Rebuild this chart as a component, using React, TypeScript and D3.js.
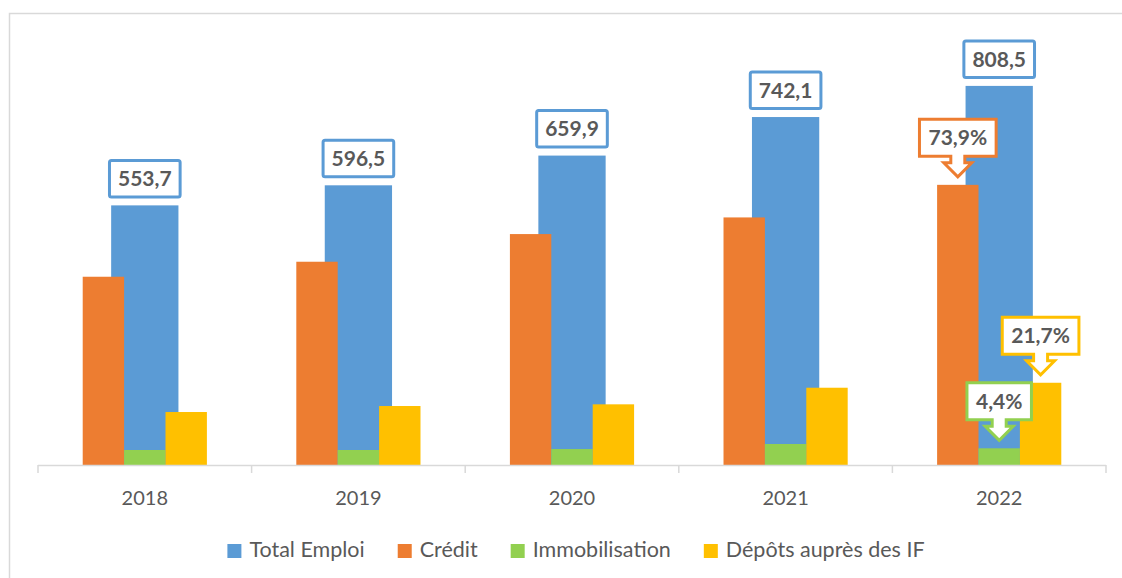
import { useEffect, useRef } from 'react';
import * as d3 from 'd3';

const years = ['2018', '2019', '2020', '2021', '2022'];
const totalEmploi = [553.7, 596.5, 659.9, 742.1, 808.5];
const credit = [401.5, 433.5, 492.5, 528.0, 597.5];
const immobilisation = [32.0, 32.0, 34.0, 44.8, 35.6];
const depots = [113.0, 125.8, 129.4, 164.8, 175.4];

const totalLabels = ['553,7', '596,5', '659,9', '742,1', '808,5'];
// étiquettes en pourcentage, seulement pour 2022
const shareLabels = [
  { year: '2022', series: 'credit', text: '73,9%' },
  { year: '2022', series: 'immobilisation', text: '4,4%' },
  { year: '2022', series: 'depots', text: '21,7%' },
];

const legendItems = [
  { name: 'Total Emploi', color: '#5B9BD5' },
  { name: 'Crédit', color: '#ED7D31' },
  { name: 'Immobilisation', color: '#92D050' },
  { name: 'Dépôts auprès des IF', color: '#FFC000' },
];

const W = 1122;
const H = 578;
const FONT = 'Lato, "Open Sans", sans-serif';
const TEXT = '#595959';
const GRID = '#D9D9D9';

const App = () => {
  const svgRef = useRef<SVGSVGElement>(null);

  useEffect(() => {
    if (!svgRef.current) return;
    const svg = d3.select(svgRef.current);
    svg.selectAll('*').remove();

    // cadre du graphique
    svg.append('rect')
      .attr('x', 9.5).attr('y', 13.5)
      .attr('width', 1130).attr('height', 580)
      .attr('fill', 'white')
      .attr('stroke', GRID).attr('stroke-width', 1.5);

    const x = d3.scaleBand<string>().domain(years).range([38, 1106]).padding(0);
    const y = d3.scaleLinear().domain([0, 900]).range([465, 43]);

    // groupe de trois barres (crédit, immo, dépôts)
    const inner = d3.scaleBand<string>()
      .domain(['credit', 'immobilisation', 'depots'])
      .range([0, x.bandwidth()])
      .paddingInner(0)
      .paddingOuter(1.08);
    const blueW = x.bandwidth() * 0.315;

    const seriesVals: Record<string, number[]> = {
      credit, immobilisation, depots,
    };
    const seriesColors: Record<string, string> = {
      credit: '#ED7D31', immobilisation: '#92D050', depots: '#FFC000',
    };

    // Total Emploi (derrière)
    svg.append('g').selectAll('rect')
      .data(years)
      .join('rect')
      .attr('x', d => x(d)! + x.bandwidth() / 2 - blueW / 2)
      .attr('width', blueW)
      .attr('y', (d, i) => y(totalEmploi[i]))
      .attr('height', (d, i) => y(0) - y(totalEmploi[i]))
      .attr('fill', '#5B9BD5');

    Object.keys(seriesVals).forEach(key => {
      svg.append('g').selectAll('rect')
        .data(years)
        .join('rect')
        .attr('x', d => x(d)! + inner(key)!)
        .attr('width', inner.bandwidth())
        .attr('y', (d, i) => y(seriesVals[key][i]))
        .attr('height', (d, i) => y(0) - y(seriesVals[key][i]))
        .attr('fill', seriesColors[key]);
    });

    // axe des abscisses
    const axisG = svg.append('g');
    axisG.append('line')
      .attr('x1', 38).attr('x2', 1106)
      .attr('y1', 465.5).attr('y2', 465.5)
      .attr('stroke', GRID).attr('stroke-width', 1.5);
    const tickPos = years.map(d => x(d)!).concat([x.range()[1]]);
    axisG.selectAll('line.tick')
      .data(tickPos)
      .join('line')
      .attr('class', 'tick')
      .attr('x1', d => d).attr('x2', d => d)
      .attr('y1', 465).attr('y2', 473)
      .attr('stroke', GRID).attr('stroke-width', 1.5);
    axisG.selectAll('text')
      .data(years)
      .join('text')
      .attr('x', d => x(d)! + x.bandwidth() / 2)
      .attr('y', 505)
      .attr('text-anchor', 'middle')
      .attr('font-family', FONT)
      .attr('font-size', 20)
      .attr('fill', TEXT)
      .text(d => d);

    // étiquettes Total Emploi
    years.forEach((yr, i) => {
      const cx = x(yr)! + x.bandwidth() / 2;
      const top = y(totalEmploi[i]);
      const g = svg.append('g');
      const txt = g.append('text')
        .attr('x', cx)
        .attr('text-anchor', 'middle')
        .attr('font-family', FONT)
        .attr('font-weight', 700)
        .attr('font-size', 21)
        .attr('fill', TEXT)
        .text(totalLabels[i]);
      const tw = (txt.node() as SVGTextElement).getComputedTextLength();
      const bw = tw + 17;
      const bBottom = top - 8.5;
      const bTop = bBottom - 36.5;
      g.insert('rect', 'text')
        .attr('x', cx - bw / 2).attr('y', bTop)
        .attr('width', bw).attr('height', bBottom - bTop)
        .attr('rx', 2)
        .attr('fill', 'white')
        .attr('stroke', '#5B9BD5').attr('stroke-width', 3);
      txt.attr('y', (bTop + bBottom) / 2 + 7.5);
    });

    // bulles flèches pour 2022
    shareLabels.forEach(lab => {
      const i = years.indexOf(lab.year);
      const v = seriesVals[lab.series][i];
      const tx = x(lab.year)! + inner(lab.series)! + inner.bandwidth() / 2;
      const ty = y(v) - 8;
      const g = svg.append('g');
      const txt = g.append('text')
        .attr('x', tx)
        .attr('text-anchor', 'middle')
        .attr('font-family', FONT)
        .attr('font-weight', 700)
        .attr('font-size', 21)
        .attr('fill', TEXT)
        .text(lab.text);
      const tw = (txt.node() as SVGTextElement).getComputedTextLength();
      const bw = tw + 18;
      const headY = ty - 14;
      const bBottom = ty - 20.5;
      const bTop = bBottom - 37;
      const l = tx - bw / 2;
      const r = tx + bw / 2;
      const p = d3.path();
      p.moveTo(l, bTop);
      p.lineTo(r, bTop);
      p.lineTo(r, bBottom);
      p.lineTo(tx + 7, bBottom);
      p.lineTo(tx + 7, headY);
      p.lineTo(tx + 14, headY);
      p.lineTo(tx, ty);
      p.lineTo(tx - 14, headY);
      p.lineTo(tx - 7, headY);
      p.lineTo(tx - 7, bBottom);
      p.lineTo(l, bBottom);
      p.closePath();
      g.insert('path', 'text')
        .attr('d', p.toString())
        .attr('fill', 'white')
        .attr('stroke', seriesColors[lab.series])
        .attr('stroke-width', 3)
        .attr('stroke-linejoin', 'miter');
      txt.attr('y', (bTop + bBottom) / 2 + 7.5);
    });

    // légende centrée
    const legend = svg.append('g');
    let cursor = 0;
    legendItems.forEach((it, k) => {
      const item = legend.append('g').attr('transform', `translate(${cursor},0)`);
      item.append('rect')
        .attr('x', 0).attr('y', 544)
        .attr('width', 14).attr('height', 14)
        .attr('fill', it.color);
      const t = item.append('text')
        .attr('x', 22).attr('y', 557)
        .attr('font-family', FONT)
        .attr('font-size', 21.5)
        .attr('fill', TEXT)
        .text(it.name);
      const tw = (t.node() as SVGTextElement).getComputedTextLength();
      cursor += 22 + tw + (k < legendItems.length - 1 ? 33 : 0);
    });
    legend.attr('transform', `translate(${576 - cursor / 2},0)`);
  }, []);

  return (
    <svg
      ref={svgRef}
      width={W}
      height={H}
      style={{ position: 'absolute', left: 0, top: 0, background: 'white' }}
    />
  );
};

export default App;
